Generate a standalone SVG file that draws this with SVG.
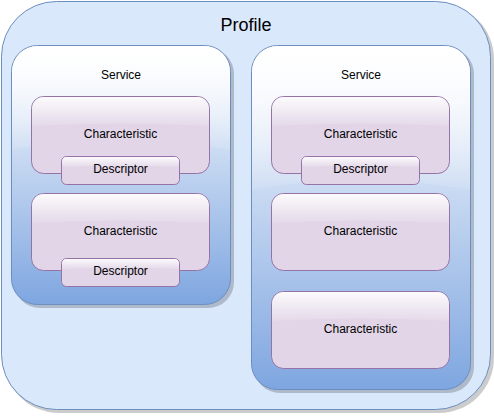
<svg xmlns="http://www.w3.org/2000/svg" width="494" height="417" viewBox="0 0 494 417">
<defs>
<linearGradient id="svcGrad" x1="0" y1="0" x2="0" y2="1">
<stop offset="0" stop-color="#ffffff"/>
<stop offset="1" stop-color="#7ea6e0"/>
</linearGradient>
<linearGradient id="glass" x1="0" y1="0" x2="0" y2="1">
<stop offset="0" stop-color="#ffffff" stop-opacity="0.9"/>
<stop offset="1" stop-color="#ffffff" stop-opacity="0.1"/>
</linearGradient>
</defs>
<style>
.profile{fill:#dae8fc;stroke:#6c8ebf;stroke-width:1}
.svc{fill:url(#svcGrad);stroke:#6c8ebf;stroke-width:1}
.ch{fill:#e1d5e7;stroke:#9673a6;stroke-width:1}
.shadow{fill:#000;opacity:0.2}
.gl{fill:url(#glass)}
text{font-family:"Liberation Sans",Arial,sans-serif;fill:#000;text-anchor:middle}
.t12{font-size:12px}
</style>
<g id="profile">
<rect class="shadow" x="4" y="4" width="490" height="409" rx="55"/>
<rect class="profile" x="1.5" y="1.5" width="489" height="408" rx="55"/>
<text x="246" y="31" font-size="18">Profile</text>
</g>
<g id="service1">
<rect class="shadow" x="14" y="48" width="220" height="260" rx="26"/>
<rect class="svc" x="11.5" y="45.5" width="219" height="259" rx="26"/>
<path class="gl" d="M12,72 A26,26 0 0 1 38,46 L204,46 A26,26 0 0 1 230,72 L230,150 Q121,130 12,150 Z"/>
<text class="t12" x="121" y="79">Service</text>
</g>
<g id="service2">
<rect class="shadow" x="254" y="48" width="220" height="345" rx="26"/>
<rect class="svc" x="251.5" y="45.5" width="219" height="344" rx="26"/>
<path class="gl" d="M252,72 A26,26 0 0 1 278,46 L444,46 A26,26 0 0 1 470,72 L470,190 Q361,170 252,190 Z"/>
<text class="t12" x="361" y="79">Service</text>
</g>
<g id="char1">
<rect class="ch" x="31.5" y="96.5" width="178" height="77" rx="12"/>
<path class="gl" d="M32,108 A11.5,11.5 0 0 1 43.5,97 L197.5,97 A11.5,11.5 0 0 1 209,108 L209,126 Q120.5,121 32,126 Z"/>
<text class="t12" x="120.5" y="138">Characteristic</text>
</g>
<g id="desc1">
<rect class="ch" x="61.5" y="156.5" width="118" height="28" rx="5"/>
<path class="gl" d="M62,161 A4.5,4.5 0 0 1 66.5,157 L174.5,157 A4.5,4.5 0 0 1 179,161 L179,167 Q120.5,165 62,167 Z"/>
<text class="t12" x="120.5" y="173">Descriptor</text>
</g>
<g id="char2">
<rect class="ch" x="31.5" y="193.5" width="178" height="77" rx="12"/>
<path class="gl" d="M32,205 A11.5,11.5 0 0 1 43.5,194 L197.5,194 A11.5,11.5 0 0 1 209,205 L209,223 Q120.5,218 32,223 Z"/>
<text class="t12" x="120.5" y="235">Characteristic</text>
</g>
<g id="desc2">
<rect class="ch" x="61.5" y="258.5" width="118" height="28" rx="5"/>
<path class="gl" d="M62,263 A4.5,4.5 0 0 1 66.5,259 L174.5,259 A4.5,4.5 0 0 1 179,263 L179,269 Q120.5,267 62,269 Z"/>
<text class="t12" x="120.5" y="275">Descriptor</text>
</g>
<g id="char3">
<rect class="ch" x="271.5" y="96.5" width="178" height="77" rx="12"/>
<path class="gl" d="M272,108 A11.5,11.5 0 0 1 283.5,97 L437.5,97 A11.5,11.5 0 0 1 449,108 L449,126 Q360.5,121 272,126 Z"/>
<text class="t12" x="360.5" y="138">Characteristic</text>
</g>
<g id="desc3">
<rect class="ch" x="301.5" y="156.5" width="118" height="28" rx="5"/>
<path class="gl" d="M302,161 A4.5,4.5 0 0 1 306.5,157 L414.5,157 A4.5,4.5 0 0 1 419,161 L419,167 Q360.5,165 302,167 Z"/>
<text class="t12" x="360.5" y="173">Descriptor</text>
</g>
<g id="char4">
<rect class="ch" x="271.5" y="193.5" width="178" height="77" rx="12"/>
<path class="gl" d="M272,205 A11.5,11.5 0 0 1 283.5,194 L437.5,194 A11.5,11.5 0 0 1 449,205 L449,223 Q360.5,218 272,223 Z"/>
<text class="t12" x="360.5" y="235">Characteristic</text>
</g>
<g id="char5">
<rect class="ch" x="271.5" y="291.5" width="178" height="77" rx="12"/>
<path class="gl" d="M272,303 A11.5,11.5 0 0 1 283.5,292 L437.5,292 A11.5,11.5 0 0 1 449,303 L449,321 Q360.5,316 272,321 Z"/>
<text class="t12" x="360.5" y="333">Characteristic</text>
</g>
<g id="connectors"></g>
</svg>
